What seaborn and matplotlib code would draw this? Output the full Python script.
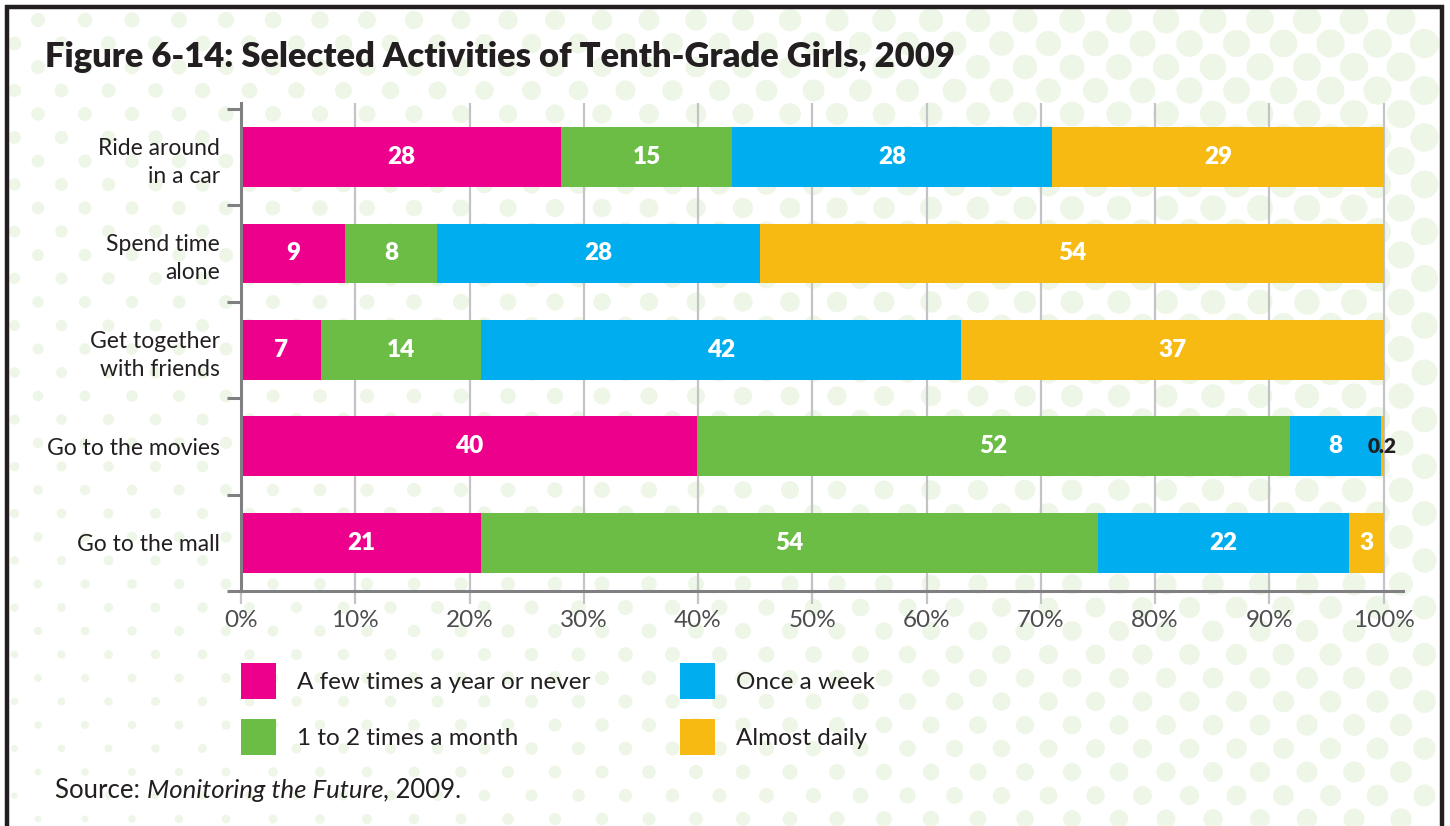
import numpy as np
import pandas as pd
import matplotlib
matplotlib.use("Agg")
import matplotlib.pyplot as plt
import seaborn as sns
from matplotlib.patches import Patch

# Data (percent of tenth-grade girls)
categories = ["Ride around\nin a car", "Spend time\nalone", "Get together\nwith friends",
              "Go to the movies", "Go to the mall"]
few_times = [28, 9, 7, 40, 21]
monthly = [15, 8, 14, 52, 54]
weekly = [28, 28, 42, 8, 22]
daily = [29, 54, 37, 0.2, 3]

series_names = ["A few times a year or never", "1 to 2 times a month", "Once a week", "Almost daily"]
colors = ["#ec008c", "#6cbd45", "#00aeef", "#f6ba13"]

df = pd.DataFrame({"activity": categories, series_names[0]: few_times, series_names[1]: monthly,
                   series_names[2]: weekly, series_names[3]: daily})
vals = df[series_names]
shares = vals.div(vals.sum(axis=1), axis=0) * 100
cum = shares.cumsum(axis=1)

sns.set_theme(style="white")
plt.rcParams['font.family'] = ['Lato', 'DejaVu Sans']
dark = "#231f20"

fig = plt.figure(figsize=(14.5, 8.26), dpi=100)
fig.patch.set_facecolor("white")

# dotted backdrop + frame
bg = fig.add_axes([0, 0, 1, 1], zorder=-5)
bg.set_xlim(0, 1450)
bg.set_ylim(826, 0)
bg.axis("off")
gx, gy = np.meshgrid(np.arange(0, 1480, 47.0), np.arange(20, 840, 23.5))
gx = gx + (np.arange(gy.shape[0])[:, None] % 2) * 23.5 - 9
gx, gy = gx.ravel(), gy.ravel()
keep = (gx > 12) & (gx < 1440)
gx, gy = gx[keep], gy[keep]
rad = 3 + 4 * (1 - gy / 826) + 8 * (gx / 1450)
bg.scatter(gx, gy, s=(2 * rad * 0.72) ** 2, color="#eef6e8", linewidths=0)
bg.plot([7, 7], [5, 826], color=dark, lw=3.2, solid_capstyle="butt")
bg.plot([5, 1444], [7, 7], color=dark, lw=3.2, solid_capstyle="butt")
bg.plot([1442, 1442], [5, 826], color=dark, lw=3.2, solid_capstyle="butt")

ax = fig.add_axes([241 / 1450, 1 - 591 / 826, (1403 - 241) / 1450, (591 - 103) / 826])
ax.set_facecolor("none")

# stacked bars: draw cumulative totals back to front
for i in range(3, -1, -1):
    sns.barplot(x=cum.iloc[:, i].values, y=df["activity"], color=colors[i], orient="h",
                width=0.62, saturation=1, ax=ax, zorder=3, linewidth=0)

for r in range(len(df)):
    left = 0
    for i, name in enumerate(series_names):
        w = shares.iloc[r, i]
        v = vals.iloc[r, i]
        small = w < 1
        ax.text(left + w / 2, r, f"{v:g}", ha="center", va="center",
                color=dark if small else "white",
                fontsize=15 if small else 17.5, fontweight="heavy", zorder=5)
        left += w

ax.set_xlim(0, 101.7)
ax.set_ylim(4.5, -0.56)
ax.set_xticks(np.arange(0, 101, 10))
ax.set_xticklabels([f"{t}%" for t in range(0, 101, 10)])
ax.set_yticks(range(len(categories)))
ax.set_yticklabels(categories, linespacing=1.4)
ax.set_yticks(np.arange(-0.5, 5, 1), minor=True)
ax.set_xlabel("")
ax.set_ylabel("")

ax.set_axisbelow(True)
ax.xaxis.grid(True, color="#c3c3c6", lw=1.6, zorder=0)
ax.yaxis.grid(False)
for s in ["top", "right"]:
    ax.spines[s].set_visible(False)
for s in ["left", "bottom"]:
    ax.spines[s].set_color("#808083")
    ax.spines[s].set_linewidth(2.2)
    ax.spines[s].set_zorder(6)

ax.tick_params(axis="x", which="major", length=9, width=1.6, color="#c3c3c6",
               labelsize=17.5, labelcolor="#4d4d4f", pad=5, bottom=True)
ax.tick_params(axis="y", which="major", length=0, labelsize=16.5, labelcolor=dark, pad=15)
ax.tick_params(axis="y", which="minor", length=10, width=2.2, color="#808083", left=True)

# title
fig.text(45 / 1450, 1 - 57 / 826, "Figure 6-14: Selected Activities of Tenth-Grade Girls, 2009",
         fontsize=24.8, fontweight="heavy", color=dark, ha="left", va="center")

# legend
handles = [Patch(facecolor=c, edgecolor="none", label=n) for c, n in zip(colors, series_names)]
fig.legend(handles=handles, loc="upper left", bbox_to_anchor=(241 / 1450, 1 - 663 / 826),
           ncol=2, frameon=False, fontsize=17.5, handlelength=1.44, handleheight=1.9,
           handletextpad=0.85, columnspacing=3.7, labelspacing=0.82, borderpad=0,
           borderaxespad=0, labelcolor=dark)

# source line with italic title
t1 = fig.text(55 / 1450, 1 - 790 / 826, "Source: ", fontsize=18.5, color=dark, ha="left", va="center")
t2 = fig.text(0, 0, "Monitoring the Future", fontsize=18.5, color=dark, style="italic")
t3 = fig.text(0, 0, ", 2009.", fontsize=18.5, color=dark)
fig.canvas.draw()
r = fig.canvas.get_renderer()
bb = t1.get_window_extent(r)
t2.set_position(fig.transFigure.inverted().transform((bb.x1, bb.y0)))
t2.set_va("bottom")
bb2 = t2.get_window_extent(r)
t3.set_position(fig.transFigure.inverted().transform((bb2.x1, bb.y0)))
t3.set_va("bottom")

fig.savefig("out.png", dpi=100, facecolor="white")
